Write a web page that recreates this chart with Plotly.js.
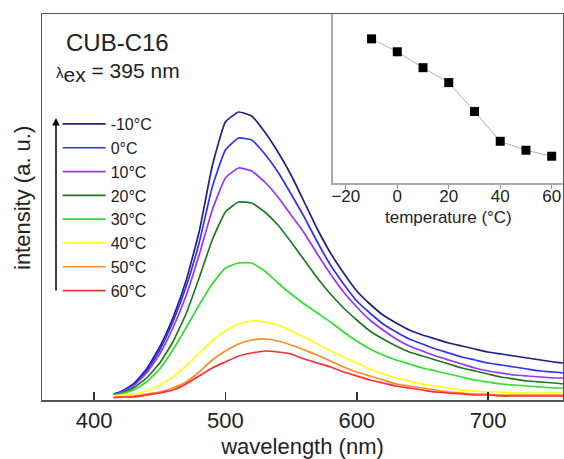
<!DOCTYPE html>
<html>
<head>
<meta charset="utf-8">
<script src="https://cdn.plot.ly/plotly-3.0.1.min.js"></script>
<style>html,body{margin:0;padding:0;background:#fff;}#chart{width:564px;height:459px;}</style>
</head>
<body>
<div id="chart"></div>
<script>
// wavelength grid (nm)
const wavelength = [415,420,430,440,450,460,470,480,490,500,510,520,530,540,550,560,570,580,590,600,610,620,630,640,650,660,670,680,690,700,710,720,730,740,750,757];
// emission intensity (a. u.) per temperature
const int_m10 = [6,8,16,31,53,82,119,168,234,278,288,284,268,248,225,198,171,147,127,109,96,85,77,70,65,61,57,54,51,48,46,44,42,40,38,37];
const int_0   = [6,8,15,29,50,78,113,157,213,250,262,260,246,228,206,183,158,135,116,99,87,76,68,61,56,51,47,43,40,37,35,33,31,29,28,27];
const int_10  = [6,7,14,27,46,72,104,145,190,222,232,229,218,203,185,167,146,126,108,93,80,70,61,54,49,44,40,36,32,29,27,25,24,23,22,22];
const int_20  = [5,6,12,22,37,58,86,122,160,188,198,197,188,175,158,140,122,106,92,80,69,61,54,48,44,40,36,32,29,26,23,21,19,18,17,16];
const int_30  = [5,6,10,18,31,50,72,95,116,132,137,137,129,117,106,96,87,78,68,59,51,45,40,36,32,29,26,23,20,18,16,15,14,13,12,12];
const int_40  = [4,5,6,9,15,23,34,47,59,69,76,79,78,75,69,63,56,49,43,37,31,26,22,19,16,14,12,10,9,8,8,7,7,7,7,7];
const int_50  = [3,3,4,6,8,12,18,28,40,49,56,60,61,59,55,50,45,39,33,28,24,20,16,14,12,10,8,7,6,6,5,5,5,5,5,5];
const int_60  = [2,3,3,5,7,10,16,24,32,38,44,47,49,48,46,41,37,33,28,24,20,17,14,12,10,8,7,6,5,5,4,4,4,4,4,4];
const seriesNames = ['-10°C','0°C','10°C','20°C','30°C','40°C','50°C','60°C'];
const seriesColors = ['#1f1f85','#3030ff','#9933ff','#1f7a1f','#2fe02f','#ffff1a','#ff8c26','#ff2e2e'];
const seriesData = [int_m10,int_0,int_10,int_20,int_30,int_40,int_50,int_60];
// inset: temperature vs intensity
const insetTemp = [-10,0,10,20,30,40,50,60];
const insetInt = [145,132,116,101,72,42,33,27];
const xTicks = [400,500,600,700];
const insetTicks = [-20,0,20,40,60];

const FONT = 'Liberation Sans, Arial, sans-serif';
const traces = seriesData.map((d,i)=>({
  x: wavelength, y: d, type:'scatter', mode:'lines', name: seriesNames[i],
  line:{color: seriesColors[i], width:1.7, shape:'spline', smoothing:0.4},
  xaxis:'x', yaxis:'y'
}));
traces.push({
  x: insetTemp, y: insetInt, type:'scatter', mode:'lines+markers', showlegend:false,
  line:{color:'#b0b0b0', width:1}, marker:{symbol:'square', size:9, color:'#000'},
  xaxis:'x2', yaxis:'y2'
});

const layout = {
  width:564, height:459,
  margin:{l:42, r:1, t:14, b:59},
  paper_bgcolor:'#fff', plot_bgcolor:'rgba(0,0,0,0)',
  font:{family:FONT, color:'#222'},
  showlegend:true,
  legend:{x:0.03, y:0.759, xanchor:'left', yanchor:'top', font:{size:16, color:'#222'}, itemwidth:43, bgcolor:'rgba(0,0,0,0)', tracegroupgap:0},
  xaxis:{domain:[0,1], range:[360.4,757], tickvals:xTicks, ticks:'inside', ticklen:8, tickwidth:1.5, tickcolor:'#333',
    showline:true, mirror:true, linecolor:'#555', linewidth:1.5, showgrid:false, zeroline:false,
    tickfont:{size:22, color:'#222'}, ticklabelstandoff:0,
    title:{text:'wavelength (nm)', font:{size:22, color:'#222'}, standoff:7}},
  yaxis:{domain:[0,1], range:[0,386], showticklabels:false, ticks:'', showline:true, mirror:true, linecolor:'#555', linewidth:1.5,
    showgrid:false, zeroline:false},
  xaxis2:{domain:[0.5585,1], anchor:'y2', range:[-25,64.4], tickvals:insetTicks, ticks:'outside', ticklen:4, tickcolor:'#999',
    showline:true, linecolor:'#aaa', linewidth:1.5, showgrid:false, zeroline:false, tickfont:{size:17, color:'#222'}, ticklabelstandoff:-7},
  yaxis2:{domain:[0.562,1], anchor:'x2', range:[0,170], showticklabels:false, ticks:'', showline:true, linecolor:'#aaa', linewidth:1.5,
    showgrid:false, zeroline:false},
  annotations:[
    {xref:'paper', yref:'paper', x:(64-42)/521, y:(400-42)/386, xanchor:'left', yanchor:'middle', text:'CUB-C16', showarrow:false, font:{size:24, color:'#222'}},
    {xref:'paper', yref:'paper', x:(54-42)/521, y:(400-72)/386, xanchor:'left', yanchor:'middle', text:'<span style="font-size:15px">λ</span><sub><span style="font-size:21px">ex</span></sub> = 395 nm', showarrow:false, font:{size:21, color:'#222'}},
    {xref:'paper', yref:'paper', x:(22-42)/521, y:(400-198)/386, xanchor:'center', yanchor:'middle', textangle:-90, text:'intensity (a. u.)', showarrow:false, font:{size:22, color:'#222'}},
    {xref:'paper', yref:'paper', x:(448-42)/521, y:(400-217)/386, xanchor:'center', yanchor:'middle', text:'temperature (°C)', showarrow:false, font:{size:17, color:'#222'}},
    {xref:'paper', yref:'paper', x:(56-42)/521, y:(400-118)/386, text:'', showarrow:true, ax:0, ay:174, arrowhead:2, arrowsize:1, arrowwidth:1.5, arrowcolor:'#000', standoff:0}
  ]
};
Plotly.newPlot('chart', traces, layout, {displayModeBar:false, staticPlot:true});
</script>
</body>
</html>
